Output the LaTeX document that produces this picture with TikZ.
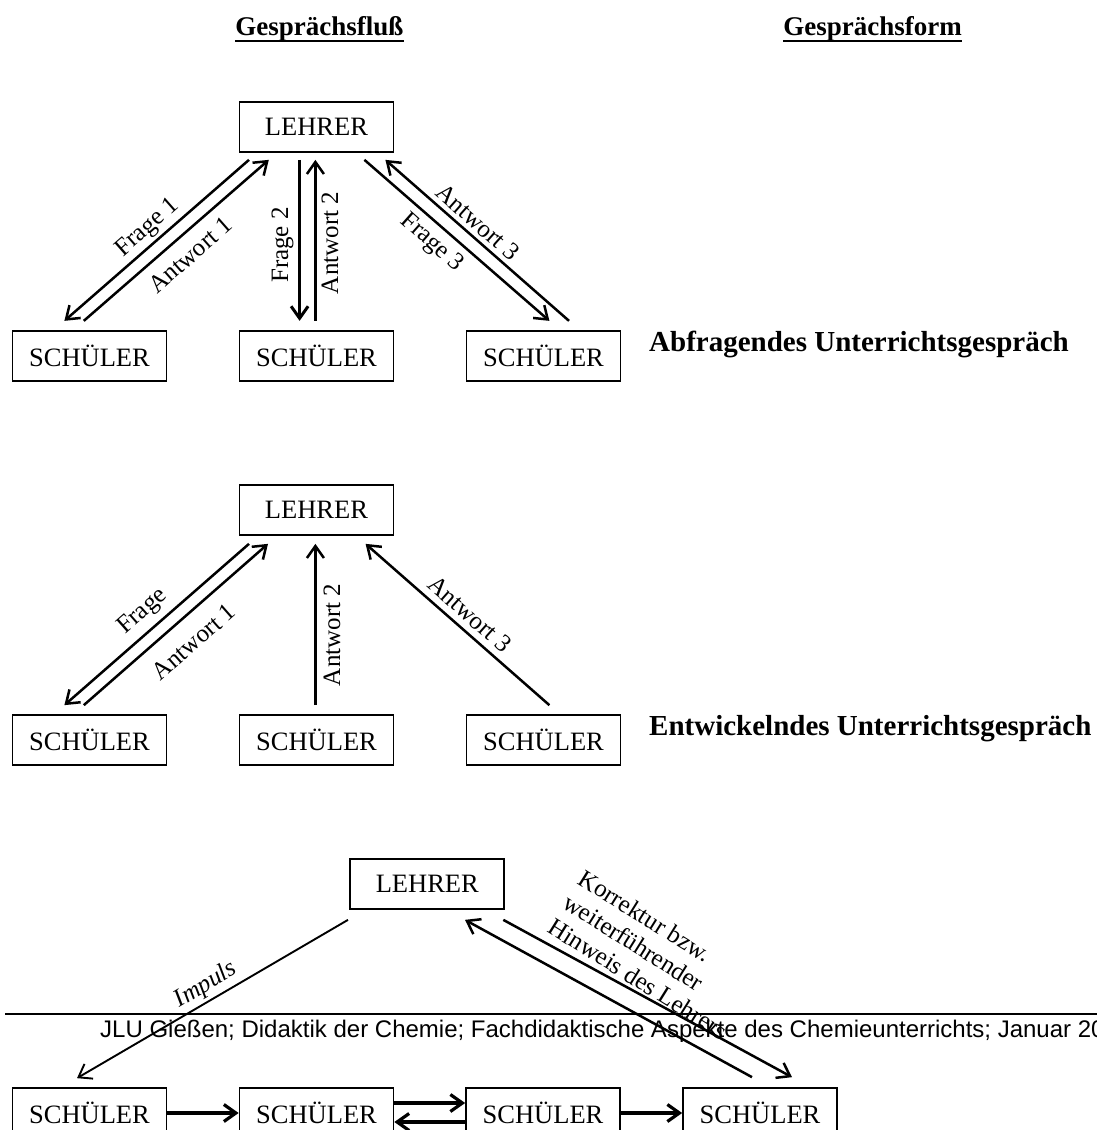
\documentclass[tikz,border=0pt]{standalone}
\usepackage{fontspec}
\setmainfont{Liberation Serif}
\newfontfamily\footfont{Liberation Sans}
\usetikzlibrary{arrows.meta}
\begin{document}
\begin{tikzpicture}[x=1pt,y=-1pt,
  box/.style={draw,line width=1.7pt,minimum width=154pt,minimum height=50pt,inner sep=0pt,font=\fontsize{26.5}{30}\selectfont},
  arr/.style={line width=2.5pt,-{Straight Barb[length=12pt,width=17pt]}},
  thinarr/.style={line width=1.9pt,-{Straight Barb[length=12pt,width=17pt]}},
  thickarr/.style={line width=3.2pt,-{Straight Barb[length=12pt,width=17pt]}},
  lab/.style={font=\fontsize{25}{28.5}\selectfont,inner sep=0pt},
  hdr/.style={font=\bfseries\fontsize{27}{30}\selectfont,inner sep=0pt,anchor=base},
  form/.style={font=\bfseries\fontsize{29}{32}\selectfont,inner sep=0pt,anchor=base west}
]
\useasboundingbox (0,0) rectangle (1097,1130);

% headers
\node[hdr] (h1) at (319.5,35) {Gesprächsfluß};
\node[hdr] (h2) at (872.5,35) {Gesprächsform};
\draw[line width=2.2pt] ([shift={(0,6)}]h1.base west) -- ([shift={(0,6)}]h1.base east);
\draw[line width=2.2pt] ([shift={(0,6)}]h2.base west) -- ([shift={(0,6)}]h2.base east);

% ---------- row 1 ----------
\node[box] (L1) at (316.5,127) {LEHRER};
\node[box] (A1) at (89.5,356) {SCHÜLER};
\node[box] (B1) at (316.5,356) {SCHÜLER};
\node[box] (C1) at (543.5,356) {SCHÜLER};
\node[form] (F1) at (649,351) {Abfragendes Unterrichtsgespräch};

\draw[arr] ([shift={(-67.5,7)}]L1.south) -- ([shift={(-25.1,-9.3)}]A1.north);
\draw[arr] ([shift={(-5.7,-9.3)}]A1.north) -- ([shift={(-47.7,7)}]L1.south);
\draw[arr,line width=3pt] ([shift={(-16.9,7)}]L1.south) -- ([shift={(-16.9,-9.3)}]B1.north);
\draw[arr] ([shift={(-1.1,-9.3)}]B1.north) -- ([shift={(-1.1,7)}]L1.south);
\draw[arr] ([shift={(47.9,7)}]L1.south) -- ([shift={(5.9,-9.3)}]C1.north);
\draw[arr] ([shift={(25.5,-9.3)}]C1.north) -- ([shift={(68.9,7)}]L1.south);

\node[lab,rotate=41.4] (l11) at (148,228) {Frage 1};
\node[lab,rotate=41.4] (l12) at (190,255) {Antwort 1};
\node[lab,rotate=90] (l13) at (282.6,245) {Frage 2};
\node[lab,rotate=90] (l14) at (330,243) {Antwort 2};
\node[lab,rotate=-41.6] (l15) at (431.6,243) {Frage 3};
\node[lab,rotate=-41.6] (l16) at (478,222) {Antwort 3};

% ---------- row 2 ----------
\node[box] (L2) at (316.5,510) {LEHRER};
\node[box] (A2) at (89.5,740) {SCHÜLER};
\node[box] (B2) at (316.5,740) {SCHÜLER};
\node[box] (C2) at (543.5,740) {SCHÜLER};
\node[form] (F2) at (649,735) {Entwickelndes Unterrichtsgespräch};

\draw[arr] ([shift={(-67.5,8)}]L2.south) -- ([shift={(-25.1,-9)}]A2.north);
\draw[arr] ([shift={(-5.7,-9)}]A2.north) -- ([shift={(-48.5,8)}]L2.south);
\draw[arr] ([shift={(-1.1,-9)}]B2.north) -- ([shift={(-1.1,8)}]L2.south);
\draw[arr] ([shift={(5.9,-9)}]C2.north) -- ([shift={(49.1,8)}]L2.south);

\node[lab,rotate=41.4] (l21) at (143,612) {Frage};
\node[lab,rotate=41.4] (l22) at (193.7,641.7) {Antwort 1};
\node[lab,rotate=90] (l23) at (332,635) {Antwort 2};
\node[lab,rotate=-41.6] (l24) at (470,614) {Antwort 3};

% ---------- footer ----------
\draw[line width=2.2pt] (5,1014) -- (1100,1014);
\node[anchor=base west,inner sep=0pt,font=\footfont\fontsize{24}{28}\selectfont] (foot) at (100,1037)
  {JLU Gießen; Didaktik der Chemie; Fachdidaktische Aspekte des Chemieunterrichts; Januar 20};

% ---------- row 3 ----------
\node[box] (L3) at (427.3,884) {LEHRER};
\node[box] (A3) at (89.5,1113) {SCHÜLER};
\node[box] (B3) at (316.5,1113) {SCHÜLER};
\node[box] (C3) at (543,1113) {SCHÜLER};
\node[box] (D3) at (760,1113) {SCHÜLER};

\draw[thinarr] ([shift={(-79.3,10)}]L3.south) -- ([shift={(-12.5,-9)}]A3.north);
\draw[arr] ([shift={(76,10)}]L3.south) -- ([shift={(32,-10)}]D3.north);
\draw[arr] ([shift={(-8,-10)}]D3.north) -- ([shift={(37.7,10)}]L3.south);

\draw[thickarr] (A3.east) -- (B3.west);
\draw[thickarr] ([shift={(0,-10)}]B3.east) -- ([shift={(0,-10)}]C3.west);
\draw[thickarr] ([shift={(0,9)}]C3.west) -- ([shift={(0,9)}]B3.east);
\draw[thickarr] (C3.east) -- (D3.west);

\node[lab,font=\itshape\fontsize{25}{28}\selectfont,rotate=31] (l31) at (206,985) {Impuls};
\node[lab,rotate=-32,anchor=west,align=left] (l32) at (566,900)
  {Korrektur bzw.\\weiterführender\\Hinweis des Lehrers};
\end{tikzpicture}
\end{document}
